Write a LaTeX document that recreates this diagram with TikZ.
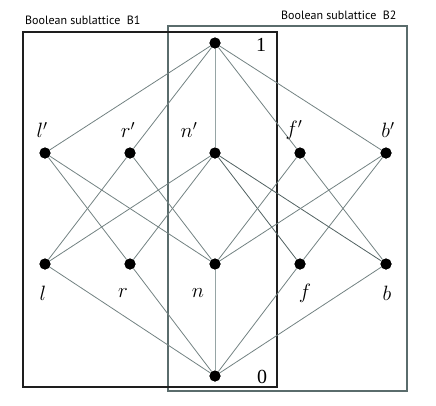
\documentclass[tikz,border=0pt]{standalone}
\usepackage{fontspec}
\newfontfamily\labfont{PT Sans}
\setmainfont{Liberation Serif}
\definecolor{edgec}{RGB}{115,130,130}
\definecolor{edgel}{RGB}{150,165,165}
\definecolor{boxtwo}{RGB}{90,108,108}
\definecolor{boxone}{RGB}{30,30,30}
\tikzset{
  dot/.style={circle,fill=black,inner sep=0pt,minimum size=11pt},
  edge/.style={draw=edgec,line width=0.8pt},
  edgelight/.style={draw=edgel,line width=1pt},
  lab/.style={font=\fontsize{20}{20}\selectfont\itshape,inner sep=0pt},
  title/.style={font=\labfont\fontsize{12}{13}\selectfont,inner sep=0pt,anchor=west}
}
\begin{document}
\begin{tikzpicture}[x=1pt,y=-1pt]
\useasboundingbox (0,0) rectangle (436,405);
% boxes
\draw[boxtwo,line width=1.2pt] (168,26) rectangle (407,391);
\draw[boxone,line width=1.2pt] (23,32) rectangle (277,387);
\node[title] (t1) at (25,20) {Boolean sublattice\ \ B1};
\node[title] (t2) at (281,15) {Boolean sublattice\ \ B2};
% nodes
\node[dot] (one) at (215,43) {};
\node[dot] (zero) at (215,376) {};
\node[dot] (lp) at (45,153) {};
\node[dot] (rp) at (130,153) {};
\node[dot] (np) at (215,153) {};
\node[dot] (fp) at (300,153) {};
\node[dot] (bp) at (386,153) {};
\node[dot] (l) at (45,264) {};
\node[dot] (r) at (130,264) {};
\node[dot] (n) at (215,264) {};
\node[dot] (f) at (300,264) {};
\node[dot] (b) at (386,264) {};
% edges
\draw[edge] (one) -- (lp);
\draw[edge] (one) -- (rp);
\draw[edgelight] (one) -- (np);
\draw[edge] (one) -- (fp);
\draw[edge] (one) -- (bp);
\draw[edge] (zero) -- (l);
\draw[edge] (zero) -- (r);
\draw[edgelight] (zero) -- (n);
\draw[edge] (zero) -- (f);
\draw[edge] (zero) -- (b);
\draw[edge] (lp) -- (r);
\draw[edge] (lp) -- (n);
\draw[edge] (rp) -- (l);
\draw[edge] (rp) -- (n);
\draw[edge] (np) -- (l);
\draw[edge] (np) -- (r);
\draw[edge,draw=boxtwo!90!black] (np) -- (f);
\draw[edge,draw=boxtwo!90!black] (np) -- (b);
\draw[edge] (fp) -- (n);
\draw[edge] (fp) -- (b);
\draw[edge] (bp) -- (n);
\draw[edge] (bp) -- (f);
% redraw dots on top
\foreach \p in {one,zero,lp,rp,np,fp,bp,l,r,n,f,b} {\fill (\p) circle (5.5pt);}
% labels
\node[lab] (Llp) at (42,130) {$l'$};
\node[lab] (Lrp) at (128,130) {$r'$};
\node[lab] (Lnp) at (189,130) {$n'$};
\node[lab] (Lfp) at (294,130) {$f'$};
\node[lab] (Lbp) at (388,130) {$b'$};
\node[lab] (Ll) at (43,293) {$l$};
\node[lab] (Lr) at (123,293) {$r$};
\node[lab] (Ln) at (198,293) {$n$};
\node[lab] (Lf) at (305,293) {$f$};
\node[lab] (Lb) at (387,293) {$b$};
\node[lab,font=\fontsize{20}{20}\selectfont] (L1) at (261,45) {1};
\node[lab,font=\fontsize{20}{20}\selectfont] (L0) at (262,377) {0};
\end{tikzpicture}
\end{document}
